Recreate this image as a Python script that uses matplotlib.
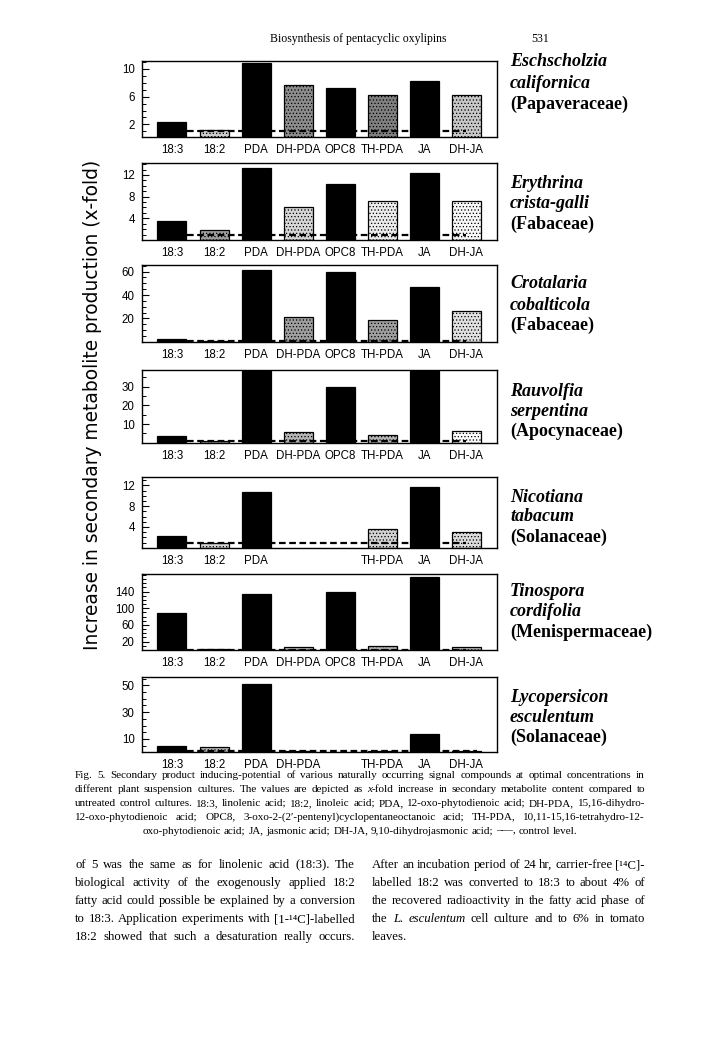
import numpy as np
import matplotlib
matplotlib.use("Agg")
import matplotlib.pyplot as plt
from matplotlib.ticker import FixedLocator, MultipleLocator

# ---------------- data ----------------
categories = ['18:3', '18:2', 'PDA', 'DH-PDA', 'OPC8', 'TH-PDA', 'JA', 'DH-JA']
nan = np.nan
eschscholzia = [2.4, 1.2, 10.8, 7.7, 7.2, 6.2, 8.3, 6.2]
erythrina = [3.5, 1.8, 13.2, 6.1, 10.3, 7.2, 12.3, 7.2]
crotalaria = [2.6, 1.0, 61.4, 20.9, 60.0, 18.6, 47.0, 26.6]
rauvolfia = [3.6, 1.0, 38.5, 5.6, 30.0, 4.1, 38.5, 6.3]
nicotiana = [2.2, 0.9, 10.8, nan, nan, 3.6, 11.7, 3.0]
tinospora = [88, 2, 134, 8, 139, 9.6, 174, 8]
lycopersicon = [4.7, 4.2, 51.0, 1.0, nan, 1.0, 13.8, 1.0]
control_level = 1.0

labels_full = categories
labels_nicotiana = ['18:3', '18:2', 'PDA', '', '', 'TH-PDA', 'JA', 'DH-JA']
labels_lycopersicon = ['18:3', '18:2', 'PDA', 'DH-PDA', '', 'TH-PDA', 'JA', 'DH-JA']

species = [
    ('Eschscholzia', 'californica', '(Papaveraceae)'),
    ('Erythrina', 'crista-galli', '(Fabaceae)'),
    ('Crotalaria', 'cobalticola', '(Fabaceae)'),
    ('Rauvolfia', 'serpentina', '(Apocynaceae)'),
    ('Nicotiana', 'tabacum', '(Solanaceae)'),
    ('Tinospora', 'cordifolia', '(Menispermaceae)'),
    ('Lycopersicon', 'esculentum', '(Solanaceae)'),
]
panel_values = [eschscholzia, erythrina, crotalaria, rauvolfia, nicotiana, tinospora, lycopersicon]
panel_labels = [labels_full] * 4 + [labels_nicotiana, labels_full, labels_lycopersicon]
major_ticks = [[2, 6, 10], [4, 8, 12], [20, 40, 60], [10, 20, 30], [4, 8, 12], [20, 60, 100, 140], [10, 30, 50]]

# ---------------- style ----------------
W, H = 720, 1037
fig = plt.figure(figsize=(W / 100, H / 100), dpi=100)
fig.patch.set_facecolor('white')
plt.rcParams['hatch.linewidth'] = 0.5

SANS = ['Liberation Sans', 'DejaVu Sans']
SERIF = ['Liberation Serif', 'DejaVu Serif']

ax_left, ax_right = 141.7, 497.0
panel_px = [(61, 137), (163.3, 240), (265, 341.7), (370, 442.7), (477, 547.7), (574.3, 650), (677.3, 752.3)]
ylims = [(0.2, 11.1), (0, 14.15), (0, 65.7), (0, 38.9), (0, 13.6), (0, 181.5), (0, 56)]
minor_steps = [1, 1, 5, 5, 1, 10, 5]
black_idx = {0, 2, 4, 6}
grey_shades = [
    [None, 0.80, None, 0.55, None, 0.50, None, 0.78],
    [None, 0.62, None, 0.84, None, 0.92, None, 0.97],
    [None, 0.70, None, 0.62, None, 0.62, None, 0.88],
    [None, 0.70, None, 0.70, None, 0.70, None, 0.98],
    [None, 0.82, None, 0.70, None, 0.82, None, 0.86],
    [None, 0.70, None, 0.70, None, 0.70, None, 0.70],
    [None, 0.70, None, 0.70, None, 0.70, None, 0.70],
]
species_y = [(62, 83, 104), (183, 204, 224), (284, 305, 325), (391, 411, 431),
             (497, 517, 537), (591, 611, 632), (697, 717, 737)]
control_end = [7.0, 7.0, 7.0, 7.0, 7.0, 7.0, 7.25]

x = np.arange(len(categories))
for i, vals in enumerate(panel_values):
    top, bot = panel_px[i]
    ax = fig.add_axes([ax_left / W, 1 - bot / H, (ax_right - ax_left) / W, (bot - top) / H])
    vals_arr = np.array(vals, dtype=float)
    for j in range(len(categories)):
        if j in black_idx:
            ax.bar(x[j], vals_arr[j], width=0.69, color='black', edgecolor='black',
                   linewidth=0.9, zorder=2)
        else:
            g = grey_shades[i][j]
            ax.bar(x[j], vals_arr[j], width=0.69, color=(g, g, g), edgecolor='black',
                   linewidth=0.9, hatch='.....', zorder=2)
    ax.hlines(control_level, 0.35, control_end[i], colors='black', linestyles=(0, (3.0, 1.6)),
              linewidth=1.6, zorder=3)
    ax.set_xlim(-0.72, 7.73)
    ax.set_ylim(*ylims[i])
    ax.set_xticks(x)
    ax.set_xticklabels(panel_labels[i], fontsize=8.3, family=SANS)
    ax.tick_params(axis='x', length=0, pad=5)
    ax.yaxis.set_major_locator(FixedLocator(major_ticks[i]))
    ax.yaxis.set_minor_locator(MultipleLocator(minor_steps[i]))
    ax.tick_params(axis='y', which='major', direction='in', length=5, width=0.8, pad=5,
                   labelsize=8.3)
    ax.tick_params(axis='y', which='minor', direction='in', length=3, width=0.7)
    for lab in ax.get_yticklabels():
        lab.set_family(SANS)
    for sp in ax.spines.values():
        sp.set_linewidth(1.0)
    # species names
    g1, g2, fam = species[i]
    y1, y2, y3 = species_y[i]
    fig.text(510 / W, 1 - y1 / H, g1, fontsize=13, family=SERIF, style='italic', weight='bold', va='center')
    fig.text(510 / W, 1 - y2 / H, g2, fontsize=13, family=SERIF, style='italic', weight='bold', va='center')
    fig.text(510 / W, 1 - y3 / H, fam, fontsize=13, family=SERIF, weight='bold', va='center')

# y label
fig.text(93 / W, 1 - 405 / H, 'Increase in secondary metabolite production (x-fold)',
         rotation=90, fontsize=13.4, family=['DejaVu Sans'], ha='center', va='center')

# header
fig.text(358 / W, 1 - 39 / H, 'Biosynthesis of pentacyclic oxylipins', fontsize=8.5, family=SERIF,
         ha='center', va='center')
fig.text(540 / W, 1 - 39 / H, '531', fontsize=8.5, family=SERIF, ha='center', va='center')

# ---------------- justified text helpers ----------------
renderer = fig.canvas.get_renderer()


def put_line(line, x0, x1, y, fs, justify=True, center=False):
    words = line.split(' ')
    word_parts = []
    widths = []
    for w in words:
        segs = w.split('*')
        parts = []
        wsum = 0.0
        for k, s in enumerate(segs):
            if s == '':
                continue
            st = 'italic' if k % 2 == 1 else 'normal'
            t = fig.text(0, 1 - y / H, s, fontsize=fs, family=SERIF, style=st, va='center', ha='left')
            bw = t.get_window_extent(renderer).width
            parts.append((t, bw))
            wsum += bw
        word_parts.append(parts)
        widths.append(wsum)
    space = fs * 100 / 72 * 0.25
    if center:
        total = sum(widths) + space * (len(words) - 1)
        start = (x0 + x1) / 2 - total / 2
        gap = space
    elif justify and len(words) > 1:
        start = x0
        gap = (x1 - x0 - sum(widths)) / (len(words) - 1)
    else:
        start = x0
        gap = space
    pos = start
    for parts, wdt in zip(word_parts, widths):
        p = pos
        for t, bw in parts:
            t.set_x(p / W)
            p += bw
        pos += wdt + gap


caption = [
    'Fig. 5. Secondary product inducing-potential of various naturally occurring signal compounds at optimal concentrations in',
    'different plant suspension cultures. The values are depicted as *x*-fold increase in secondary metabolite content compared to',
    'untreated control cultures. 18:3, linolenic acid; 18:2, linoleic acid; PDA, 12-oxo-phytodienoic acid; DH-PDA, 15,16-dihydro-',
    '12-oxo-phytodienoic acid; OPC8, 3-oxo-2-(2\u2032-pentenyl)cyclopentaneoctanoic acid; TH-PDA, 10,11-15,16-tetrahydro-12-',
    'oxo-phytodienoic acid; JA, jasmonic acid; DH-JA, 9,10-dihydrojasmonic acid; \u2013\u2013\u2013, control level.',
]
cap_y = [776, 790, 803.5, 817, 831]
for k, line in enumerate(caption):
    put_line(line, 75, 645, cap_y[k], 8.0, justify=(k < 4), center=(k == 4))

left_col = [
    'of 5 was the same as for linolenic acid (18:3). The',
    'biological activity of the exogenously applied 18:2',
    'fatty acid could possible be explained by a conversion',
    'to 18:3. Application experiments with [1-\u00b9\u2074C]-labelled',
    '18:2 showed that such a desaturation really occurs.',
]
right_col = [
    'After an incubation period of 24 hr, carrier-free [\u00b9\u2074C]-',
    'labelled 18:2 was converted to 18:3 to about 4% of',
    'the recovered radioactivity in the fatty acid phase of',
    'the *L.* *esculentum* cell culture and to 6% in tomato',
    'leaves.',
]
body_y = [865, 883, 901, 919, 937]
for k in range(5):
    put_line(left_col[k], 75, 355, body_y[k], 9.2, justify=True)
    put_line(right_col[k], 372, 645, body_y[k], 9.2, justify=(k < 4))

fig.savefig('out.png', dpi=100)
